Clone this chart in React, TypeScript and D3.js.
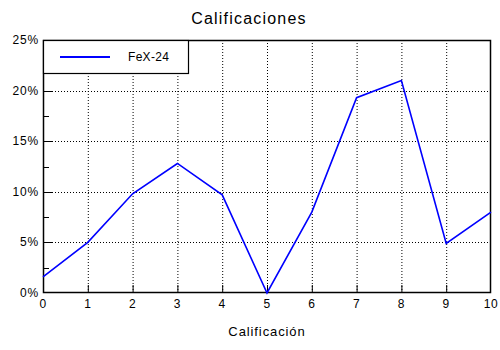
import React from "react";
import * as d3 from "d3";

const categories = [0, 1, 2, 3, 4, 5, 6, 7, 8, 9, 10];
const values = [1.6, 5.0, 9.8, 12.8, 9.7, 0.0, 8.0, 19.3, 21.0, 4.9, 8.0];
const yTicks = [0, 5, 10, 15, 20, 25];
const yMinorTicks = [2.5, 7.5, 12.5, 17.5, 22.5];
const seriesName = "FeX-24";
const title = "Calificaciones";
const xTitle = "Calificación";

export default function App() {
  const W = 500, H = 350;
  const L = 43, R = 491, T = 40, B = 293;
  const x = d3.scaleLinear().domain([0, 10]).range([L, R]);
  const y = d3.scaleLinear().domain([0, 25]).range([B, T]);
  const line = d3.line<number>().x((_, i) => x(categories[i])).y((d) => y(d));
  const font = "Arial, 'Liberation Sans', Helvetica, sans-serif";
  return (
    <svg width={W} height={H} style={{ position: "absolute", left: 0, top: 0, background: "#fff" }} fontFamily={font}>
      <rect x={0} y={0} width={W} height={H} fill="#fff" />
      {/* grid */}
      {categories.slice(1, -1).map((c) => (
        <line key={"gx" + c} x1={x(c) + 0.5} x2={x(c) + 0.5} y1={T} y2={B} stroke="#000" strokeDasharray="1,2" />
      ))}
      {yTicks.slice(1, -1).map((t) => (
        <line key={"gy" + t} x1={L} x2={R} y1={Math.round(y(t)) + 0.5} y2={Math.round(y(t)) + 0.5} stroke="#000" strokeDasharray="1,2" />
      ))}
      {/* ticks */}
      {categories.slice(1, -1).map((c) => (
        <line key={"tx" + c} x1={x(c) + 0.5} x2={x(c) + 0.5} y1={B} y2={B - 8} stroke="#000" />
      ))}
      {yTicks.slice(1, -1).map((t) => (
        <line key={"ty" + t} x1={L} x2={L + 10} y1={Math.round(y(t)) + 0.5} y2={Math.round(y(t)) + 0.5} stroke="#000" />
      ))}
      {yMinorTicks.map((t) => (
        <line key={"tm" + t} x1={L} x2={L + 6} y1={Math.round(y(t)) + 0.5} y2={Math.round(y(t)) + 0.5} stroke="#000" />
      ))}
      {/* frame */}
      <rect x={L + 0.5} y={T + 0.5} width={R - L - 1} height={B - T - 1} fill="none" stroke="#000" strokeWidth={1.5} />
      {/* data line */}
      <path d={line(values) || ""} fill="none" stroke="#0000ff" strokeWidth={1.6} />
      {/* tick labels */}
      {yTicks.map((t) => (
        <text key={"ly" + t} x={L - 4} y={y(t) + 4} textAnchor="end" fontSize={12} letterSpacing={0.8}>
          {t}%
        </text>
      ))}
      {categories.map((c) => (
        <text key={"lx" + c} x={x(c)} y={308} textAnchor="middle" fontSize={12} letterSpacing={0.5}>
          {c}
        </text>
      ))}
      {/* legend */}
      <rect x={L + 0.5} y={T + 0.5} width={145} height={33} fill="#fff" stroke="#000" strokeWidth={1.2} />
      <line x1={60} x2={110} y1={57} y2={57} stroke="#0000ff" strokeWidth={2} />
      <text x={128} y={61} fontSize={12} letterSpacing={0.3}>{seriesName}</text>
      {/* titles */}
      <text x={249} y={24} textAnchor="middle" fontSize={16} letterSpacing={1.2}>{title}</text>
      <text x={267} y={336} textAnchor="middle" fontSize={13} letterSpacing={0.9}>{xTitle}</text>
    </svg>
  );
}
